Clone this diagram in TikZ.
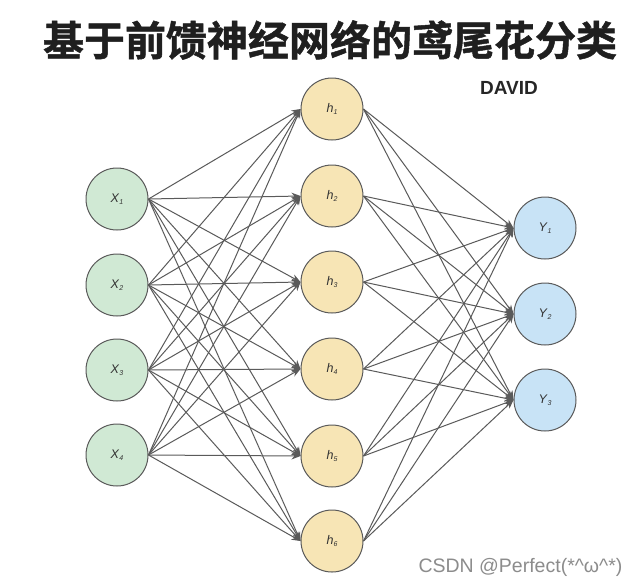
\documentclass[tikz,border=0pt]{standalone}
\usepackage{fontspec}
\setmainfont{Liberation Sans}
\newfontfamily\cjk{Noto Sans CJK SC}[BoldFont={Noto Sans CJK SC Bold},BoldFeatures={FakeBold=1.2}]
\usetikzlibrary{arrows.meta}
\definecolor{ingreen}{HTML}{D0E9D4}
\definecolor{hidyellow}{HTML}{F7E5B5}
\definecolor{outblue}{HTML}{C8E3F6}
\definecolor{strokegrey}{HTML}{5A5A5A}
\definecolor{edgegrey}{HTML}{5A5A5A}
\definecolor{labelgrey}{HTML}{333333}
\tikzset{
  neuron/.style={circle, draw=strokegrey, line width=1pt, minimum size=62pt, inner sep=0pt,
    font=\fontsize{12.5}{12.5}\selectfont, text=labelgrey},
  innode/.style={neuron, fill=ingreen},
  hidnode/.style={neuron, fill=hidyellow},
  outnode/.style={neuron, fill=outblue},
  conn/.style={draw=edgegrey, line width=1pt, -{Stealth[length=9pt,width=7pt]}},
}
\newcommand{\lbl}[2]{\textit{#1}\raisebox{-1.5pt}{\fontsize{7}{7}\selectfont\textit{#2}}}
\begin{document}
\begin{tikzpicture}[x=1pt,y=-1pt]
\useasboundingbox (0,0) rectangle (639,587);
\fill[white] (0,0) rectangle (639,587);
% title
\node[font=\cjk\bfseries\fontsize{41}{41}\selectfont, text=black!88] (title) at (330,40) {基于前馈神经网络的鸢尾花分类};
\node[font=\bfseries\fontsize{19}{19}\selectfont, text=black!85] (author) at (509,88) {DAVID};
% input layer
\node[innode] (x1) at (117,199) {\lbl{X}{1}};
\node[innode] (x2) at (117,285) {\lbl{X}{2}};
\node[innode] (x3) at (117,370) {\lbl{X}{3}};
\node[innode] (x4) at (117,455) {\lbl{X}{4}};
% hidden layer
\node[hidnode] (h1) at (332,109) {\lbl{h}{1}};
\node[hidnode] (h2) at (332,196) {\lbl{h}{2}};
\node[hidnode] (h3) at (332,282) {\lbl{h}{3}};
\node[hidnode] (h4) at (332,369) {\lbl{h}{4}};
\node[hidnode] (h5) at (332,456) {\lbl{h}{5}};
\node[hidnode] (h6) at (332,541) {\lbl{h}{6}};
% output layer
\node[outnode] (y1) at (545,228) {\lbl{Y}{1}};
\node[outnode] (y2) at (545,314) {\lbl{Y}{2}};
\node[outnode] (y3) at (545,400) {\lbl{Y}{3}};
% connections
\foreach \i in {1,...,4}{
  \foreach \j in {1,...,6}{
    \draw[conn] (x\i.east) -- (h\j.west);
  }
}
\foreach \j in {1,...,6}{
  \foreach \k in {1,...,3}{
    \draw[conn] (h\j.east) -- (y\k.west);
  }
}
% watermark
\node[font=\fontsize{19.5}{19.5}\selectfont, text=black!45, anchor=east] (wm) at (626,567) {CSDN @Perfect(*\^{}ω\^{}*)};
\end{tikzpicture}
\end{document}
